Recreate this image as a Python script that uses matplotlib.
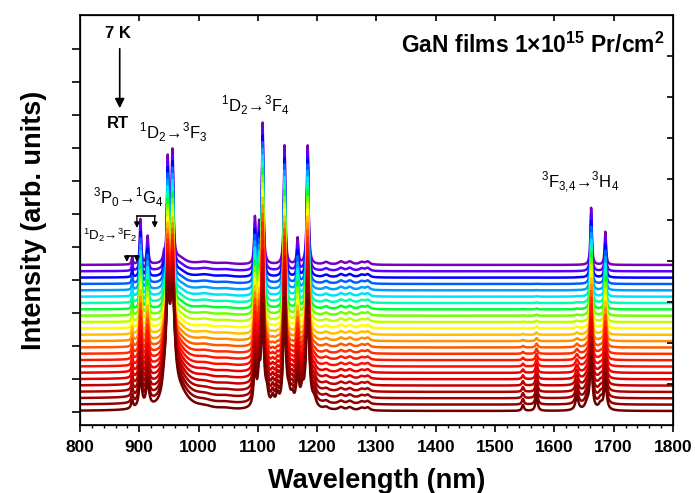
import numpy as np
import matplotlib
matplotlib.use('Agg')
import matplotlib.pyplot as plt
from matplotlib.ticker import MultipleLocator

plt.rcParams['font.family'] = ['Liberation Sans', 'DejaVu Sans']
plt.rcParams['font.weight'] = 'bold'
plt.rcParams['mathtext.fontset'] = 'custom'
plt.rcParams['mathtext.rm'] = 'Liberation Sans:normal'
plt.rcParams['mathtext.bf'] = 'Liberation Sans:bold'

# --- data (heights in pixel-like units) ---
# sharp Pr3+ lines: centre (nm), height at 7 K, height at RT, width at 7 K, width at RT
line_nm = [888, 902, 914, 942, 948, 956, 968, 1095, 1102, 1108, 1145, 1167, 1184, 1662, 1686]
line_h_cold = [7, 45, 28, 8, 103, 110, 6, 46, 36, 140, 119, 26, 119, 57, 33]
line_h_hot = [8, 35, 25, 14, 92, 100, 16, 40, 30, 98, 108, 30, 108, 52, 30]
line_w_cold = [1.2, 1.3, 1.5, 2.0, 1.4, 1.7, 12, 1.4, 1.2, 1.4, 1.4, 1.5, 1.6, 1.4, 1.4]
line_w_hot = [2.0, 2.5, 3.0, 4.0, 3.5, 4.5, 18, 2.5, 2.5, 2.5, 2.5, 3.0, 3.0, 2.5, 2.5]

# hot-band lines that only show up at higher temperature
hot_nm = [1115, 1125, 1133, 1152, 1158, 1175, 1195, 1547, 1570, 1638, 1655, 1678]
hot_h = [14, 10, 12, 12, 10, 15, 8, 6, 16, 14, 6, 6]
hot_w = [3, 3, 3, 3, 3, 3, 4, 2, 2, 3, 4, 4]

# weak structure present in every spectrum
weak_nm = [1010, 1045, 1215, 1240, 1255, 1275, 1285]
weak_h = [2.5, 1.5, 2.5, 3, 3, 2.5, 3]
weak_w = [15, 15, 5, 5, 5, 5, 4]

# temperature weight of every spectrum, bottom (RT) to top (7 K)
hot = [1.0, 0.94, 0.87, 0.8, 0.72, 0.64, 0.56, 0.48, 0.4, 0.32, 0.25, 0.19,
       0.15, 0.12, 0.09, 0.07, 0.05, 0.04, 0.03, 0.02, 0.015, 0.01, 0.005, 0.0]

colors = ['#700000', '#900000', '#a00000', '#b00000', '#c40000', '#e00000',
          '#f00000', '#ff1000', '#ff1800', '#ff3000', '#ff5a00', '#ff9000',
          '#ffc000', '#ffff00', '#c0ff00', '#70ff00', '#00ff30', '#00ffb0',
          '#00e0ff', '#00a0ff', '#0060ff', '#0000ff', '#5a00ff', '#7a00b8']

wl = np.arange(800, 1800.5, 0.5)


def lorentz(x, c, h, w):
    return h * w ** 2 / ((x - c) ** 2 + w ** 2)


fig = plt.figure(figsize=(6.95, 4.93), dpi=100)
ax = fig.add_axes([0.1151, 0.1379, 0.8532, 0.8317])

base = 14
step = 6.35
for i in range(len(hot) - 1, -1, -1):
    t = hot[i]
    y = np.full_like(wl, base + step * i)
    for c, hc, hh, wc, wh in zip(line_nm, line_h_cold, line_h_hot, line_w_cold, line_w_hot):
        y += lorentz(wl, c, hc * (1 - t) + hh * t, wc * (1 - t) + wh * t)
    for c, h, w in zip(hot_nm, hot_h, hot_w):
        y += lorentz(wl, c, h * t, w)
    for c, h, w in zip(weak_nm, weak_h, weak_w):
        y += lorentz(wl, c, h, w)
    ax.plot(wl, y, color=colors[i], lw=1.8)

ax.set_xlim(800, 1800)
ax.set_ylim(0, 410)
ax.xaxis.set_major_locator(MultipleLocator(100))
ax.xaxis.set_minor_locator(MultipleLocator(20))
ax.set_yticks([13 + 33 * k for k in range(12)])
ax.tick_params(axis='y', direction='out', length=6, width=1.2, labelleft=False)
ax.tick_params(axis='x', which='major', direction='out', length=5, width=1.2, pad=6,
               labelsize=12.5)
ax.tick_params(axis='x', which='minor', direction='out', length=2.5, width=1.0)
for s in ax.spines.values():
    s.set_linewidth(1.2)

ax2 = ax.twinx()
ax2.set_ylim(0, 10)
ax2.set_yticks(range(1, 10))
ax2.tick_params(direction='in', length=4, width=1.2, labelright=False)
ax3 = ax.twiny()
ax3.set_xlim(800, 1800)
ax3.set_xticks(range(900, 1800, 100))
ax3.tick_params(direction='in', length=4, width=1.2, labeltop=False)

ax.set_xlabel('Wavelength (nm)', fontsize=19.5, fontweight='bold', labelpad=9)
ax.set_ylabel('Intensity (arb. units)', fontsize=19.5, fontweight='bold', labelpad=18)

# annotations
ax.text(864, 391, '7 K', fontsize=12, fontweight='bold', ha='center', va='center')
ax.annotate('', xy=(867, 314), xytext=(867, 379),
            arrowprops=dict(arrowstyle='-|>', color='black', lw=1.2, mutation_scale=14))
ax.text(864, 301, 'RT', fontsize=12, fontweight='bold', ha='center', va='center')
trans = dict(fontweight='normal', ha='center', va='center')
ax.text(957, 293, r'$^1$D$_2$→$^3$F$_3$', fontsize=12, **trans)
ax.text(1095, 320, r'$^1$D$_2$→$^3$F$_4$', fontsize=12, **trans)
ax.text(881, 228, r'$^3$P$_0$→$^1$G$_4$', fontsize=12, **trans)
ax.text(851, 190, r'$^1$D$_2$→$^3$F$_2$', fontsize=9.5, **trans)
ax.text(1643, 243, r'$^3$F$_{3{,}4}$→$^3$H$_4$', fontsize=12, **trans)
ax.text(1786, 380, r'GaN films 1×10$^{\mathbf{15}}$ Pr/cm$^{\mathbf{2}}$', fontsize=16.5,
        fontweight='bold', ha='right', va='center')

# brackets over the small lines
for x0, x1, ytop, ybot in [(896, 926, 209, 197), (879, 896, 169, 163)]:
    ax.plot([x0, x1], [ytop, ytop], color='black', lw=1.2)
    for xx in (x0, x1):
        ax.annotate('', xy=(xx, ybot), xytext=(xx, ytop),
                    arrowprops=dict(arrowstyle='-|>', color='black', lw=1.0,
                                    mutation_scale=8, shrinkA=0, shrinkB=0))

fig.savefig('out.png', dpi=100)
